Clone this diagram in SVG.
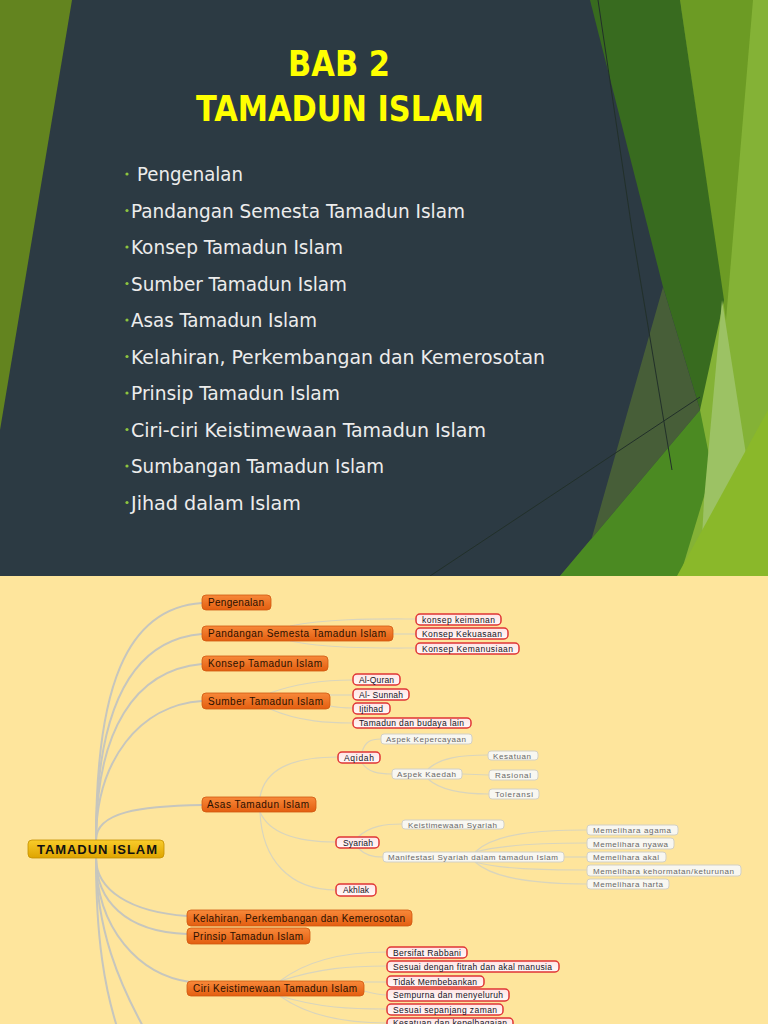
<svg xmlns="http://www.w3.org/2000/svg" width="768" height="1024" viewBox="0 0 768 1024">
<defs>
<linearGradient id="gOr" x1="0" y1="0" x2="0" y2="1"><stop offset="0" stop-color="#f8893a"/><stop offset="1" stop-color="#e35e10"/></linearGradient>
<linearGradient id="gGold" x1="0" y1="0" x2="0" y2="1"><stop offset="0" stop-color="#f9cc2a"/><stop offset="1" stop-color="#dea400"/></linearGradient>
<linearGradient id="gRed" x1="0" y1="0" x2="0" y2="1"><stop offset="0" stop-color="#ffe4e4"/><stop offset="1" stop-color="#fff9f9"/></linearGradient>
<style>
.tt{font-family:"DejaVu Sans Condensed","DejaVu Sans",sans-serif;font-weight:bold;font-size:36px;fill:#ffff00}
.bl{font-family:"DejaVu Sans Condensed","DejaVu Sans",sans-serif;font-size:19px;fill:#ececec}
.dot{fill:#8dc63f}
.m rect{fill:url(#gOr);stroke:#cf5810;stroke-width:0.8}
.m text{font-family:"Liberation Sans",Arial,sans-serif;font-size:10px;fill:#2a1000}
.r rect{fill:url(#gRed);stroke:#e03535;stroke-width:1.5}
.r text{font-family:"Liberation Sans",Arial,sans-serif;font-size:8.5px;fill:#14141e}
.g rect{fill:#f8f7f1;stroke:#d2d0c6;stroke-width:1}
.g text{font-family:"Liberation Sans",Arial,sans-serif;font-size:8px;fill:#686868}
.c rect{fill:url(#gGold);stroke:#c49000;stroke-width:0.8}
.c text{font-family:"Liberation Sans",Arial,sans-serif;font-size:13px;font-weight:bold;fill:#111}
.mc path{fill:none;stroke:#c6c6be;stroke-width:2}
.sc path{fill:none;stroke:#d9d5bd;stroke-width:1.2}
</style>
</defs>
<!-- slide background -->
<rect x="0" y="0" width="768" height="576" fill="#2c3a43"/>
<polygon points="0,0 72,0 0,430" fill="#63841f"/>
<polygon points="680,0 768,0 768,576 680,576 700,410" fill="#84b236"/>
<polygon points="680,0 753,0 726,320" fill="#6c9b24"/>
<polygon points="590,0 680,0 724,300 700,410 663,287" fill="#386b1f"/>
<polygon points="663,287 700,410 560,576 581,576" fill="#475e38"/>
<polygon points="560,576 700,410 712,470 680,576" fill="#4b8a22"/>
<polygon points="722,300 750,480 700,576 704,500" fill="#9cc264"/>
<polygon points="677,576 768,410 768,576" fill="#8ab82a"/>
<polyline points="598,0 632,230 672,470" fill="none" stroke="#22302a" stroke-width="1"/>
<line x1="430" y1="576" x2="700" y2="397" stroke="#22302a" stroke-width="1"/>
<!-- title -->
<text class="tt" x="288" y="76" textLength="102" lengthAdjust="spacingAndGlyphs">BAB 2</text>
<text class="tt" x="196" y="121" textLength="288" lengthAdjust="spacingAndGlyphs">TAMADUN ISLAM</text>
<!-- bullets -->
<g id="bullets">
<circle class="dot" cx="127" cy="174" r="1.6"/><text class="bl" x="137" y="181" textLength="106" lengthAdjust="spacingAndGlyphs">Pengenalan</text>
<circle class="dot" cx="127" cy="210.5" r="1.6"/><text class="bl" x="131" y="217.5" textLength="334" lengthAdjust="spacingAndGlyphs">Pandangan Semesta Tamadun Islam</text>
<circle class="dot" cx="127" cy="247" r="1.6"/><text class="bl" x="131" y="254" textLength="212" lengthAdjust="spacingAndGlyphs">Konsep Tamadun Islam</text>
<circle class="dot" cx="127" cy="283.5" r="1.6"/><text class="bl" x="131" y="290.5" textLength="216" lengthAdjust="spacingAndGlyphs">Sumber Tamadun Islam</text>
<circle class="dot" cx="127" cy="320" r="1.6"/><text class="bl" x="131" y="327" textLength="186" lengthAdjust="spacingAndGlyphs">Asas Tamadun Islam</text>
<circle class="dot" cx="127" cy="356.5" r="1.6"/><text class="bl" x="131" y="363.5" textLength="414" lengthAdjust="spacingAndGlyphs">Kelahiran, Perkembangan dan Kemerosotan</text>
<circle class="dot" cx="127" cy="393" r="1.6"/><text class="bl" x="131" y="400" textLength="209" lengthAdjust="spacingAndGlyphs">Prinsip Tamadun Islam</text>
<circle class="dot" cx="127" cy="429.5" r="1.6"/><text class="bl" x="131" y="436.5" textLength="355" lengthAdjust="spacingAndGlyphs">Ciri-ciri Keistimewaan Tamadun Islam</text>
<circle class="dot" cx="127" cy="466" r="1.6"/><text class="bl" x="131" y="473" textLength="253" lengthAdjust="spacingAndGlyphs">Sumbangan Tamadun Islam</text>
<circle class="dot" cx="127" cy="502.5" r="1.6"/><text class="bl" x="131" y="509.5" textLength="170" lengthAdjust="spacingAndGlyphs">Jihad dalam Islam</text>
</g>
<!-- mind map background -->
<rect x="0" y="576" width="768" height="448" fill="#fee59c"/>
<g id="connectors">
<g class="mc">
<path d="M96,840 C96,690 125,608 202,603"/>
<path d="M96,840 C96,710 130,640 202,634"/>
<path d="M96,840 C96,730 135,670 202,664"/>
<path d="M96,840 C96,760 140,705 202,701"/>
<path d="M96,840 C96,812 140,806 202,805"/>
<path d="M96,858 C96,890 130,912 187,916"/>
<path d="M96,858 C96,900 125,932 187,934"/>
<path d="M96,858 C96,930 140,975 190,982"/>
<path d="M96,858 C96,940 105,990 118,1030"/>
<path d="M96,858 C96,930 120,985 145,1030"/>
</g>
<g class="sc">
<path d="M290,626 C330,618 380,619 416,619"/>
<path d="M393,634 L416,634"/>
<path d="M290,641 C330,649 380,648 416,648"/>
<path d="M270,693 C300,682 330,680 353,680"/>
<path d="M330,695 L353,695"/>
<path d="M330,706 C340,708 345,708 353,708"/>
<path d="M270,709 C300,722 330,723 353,723"/>
<path d="M260,797 C265,770 290,757 338,757"/>
<path d="M260,812 C270,835 300,842 336,842"/>
<path d="M260,812 C262,860 290,890 336,890"/>
<path d="M362,752 C365,742 370,739 381,739"/>
<path d="M362,763 C368,772 378,774 392,774"/>
<path d="M428,769 C440,758 460,755 488,755"/>
<path d="M462,774 L489,775"/>
<path d="M428,779 C440,790 460,794 489,794"/>
<path d="M358,837 C370,826 385,824 402,824"/>
<path d="M358,848 C365,855 372,857 383,857"/>
<path d="M475,852 C495,833 540,830 587,830"/>
<path d="M475,852 C500,845 540,843 587,843"/>
<path d="M564,857 L587,857"/>
<path d="M475,862 C500,869 540,870 587,870"/>
<path d="M475,862 C495,880 540,884 587,884"/>
<path d="M280,981 C310,958 350,952 387,952"/>
<path d="M280,981 C320,968 350,966 387,966"/>
<path d="M364,982 L387,982"/>
<path d="M364,991 C375,994 380,995 387,995"/>
<path d="M280,996 C320,1008 350,1009 387,1009"/>
<path d="M280,996 C310,1018 350,1023 387,1023"/>
</g>
</g>
<g id="n-root" class="c"><rect x="28" y="840" width="136" height="18" rx="4"/><text x="37" y="854" textLength="120">TAMADUN ISLAM</text></g>
<g id="n-pengenalan" class="m"><rect x="202" y="595" width="69" height="15" rx="4"/><text x="208" y="606" textLength="56">Pengenalan</text></g>
<g id="n-pandangan" class="m"><rect x="202" y="626" width="191" height="15" rx="4"/><text x="208" y="637" textLength="178">Pandangan Semesta Tamadun Islam</text></g>
<g id="n-konsep" class="m"><rect x="202" y="656" width="126" height="15" rx="4"/><text x="208" y="667" textLength="114">Konsep Tamadun Islam</text></g>
<g id="n-sumber" class="m"><rect x="202" y="693" width="128" height="16" rx="4"/><text x="208" y="704.5" textLength="115">Sumber Tamadun Islam</text></g>
<g id="n-asas" class="m"><rect x="202" y="797" width="114" height="15" rx="4"/><text x="207" y="808" textLength="102">Asas Tamadun Islam</text></g>
<g id="n-kelahiran" class="m"><rect x="187" y="910" width="225" height="16" rx="4"/><text x="193" y="921.5" textLength="212">Kelahiran, Perkembangan dan Kemerosotan</text></g>
<g id="n-prinsip" class="m"><rect x="187" y="928" width="123" height="16" rx="4"/><text x="193" y="939.5" textLength="110">Prinsip Tamadun Islam</text></g>
<g id="n-ciri" class="m"><rect x="187" y="981" width="177" height="15" rx="4"/><text x="193" y="992" textLength="164">Ciri Keistimewaan Tamadun Islam</text></g>
<g id="n-keimanan" class="r"><rect x="416" y="614" width="85" height="11" rx="4"/><text x="422" y="622.5" textLength="73">konsep keimanan</text></g>
<g id="n-kekuasaan" class="r"><rect x="416" y="628" width="92" height="11" rx="4"/><text x="422" y="636.5" textLength="80">Konsep Kekuasaan</text></g>
<g id="n-kemanusiaan" class="r"><rect x="416" y="643" width="103" height="11" rx="4"/><text x="422" y="651.5" textLength="91">Konsep Kemanusiaan</text></g>
<g id="n-quran" class="r"><rect x="353" y="674" width="47" height="11" rx="4"/><text x="359" y="682.5" textLength="35">Al-Quran</text></g>
<g id="n-sunnah" class="r"><rect x="353" y="689" width="56" height="11" rx="4"/><text x="359" y="697.5" textLength="44">Al- Sunnah</text></g>
<g id="n-ijtihad" class="r"><rect x="353" y="703" width="37" height="11" rx="4"/><text x="359" y="711.5" textLength="24">Ijtihad</text></g>
<g id="n-budaya" class="r"><rect x="353" y="718" width="118" height="10" rx="4"/><text x="359" y="726" textLength="105">Tamadun dan budaya lain</text></g>
<g id="n-aqidah" class="r"><rect x="338" y="752" width="42" height="11" rx="4"/><text x="344" y="760.5" textLength="30">Aqidah</text></g>
<g id="n-syariah" class="r"><rect x="336" y="837" width="43" height="11" rx="4"/><text x="343" y="845.5" textLength="30">Syariah</text></g>
<g id="n-akhlak" class="r"><rect x="336" y="884" width="40" height="12" rx="4"/><text x="343" y="893" textLength="26">Akhlak</text></g>
<g id="n-rabbani" class="r"><rect x="387" y="947" width="80" height="11" rx="4"/><text x="393" y="955.5" textLength="68">Bersifat Rabbani</text></g>
<g id="n-fitrah" class="r"><rect x="387" y="961" width="172" height="11" rx="4"/><text x="393" y="969.5" textLength="159">Sesuai dengan fitrah dan akal manusia</text></g>
<g id="n-tidak" class="r"><rect x="387" y="976" width="97" height="11" rx="4"/><text x="393" y="984.5" textLength="84">Tidak Membebankan</text></g>
<g id="n-sempurna" class="r"><rect x="387" y="989" width="122" height="12" rx="4"/><text x="393" y="998" textLength="110">Sempurna dan menyeluruh</text></g>
<g id="n-zaman" class="r"><rect x="387" y="1004" width="116" height="11" rx="4"/><text x="393" y="1012.5" textLength="104">Sesuai sepanjang zaman</text></g>
<g id="n-kesatuan" class="r"><rect x="387" y="1018" width="126" height="11" rx="4"/><text x="393" y="1026" textLength="114">Kesatuan dan kepelbagaian</text></g>
<g id="n-kepercayaan" class="g"><rect x="381" y="734" width="91" height="10" rx="3"/><text x="386" y="742" textLength="80">Aspek Kepercayaan</text></g>
<g id="n-kaedah" class="g"><rect x="392" y="769" width="70" height="10" rx="3"/><text x="397" y="777" textLength="59">Aspek Kaedah</text></g>
<g id="n-kesatuan2" class="g"><rect x="488" y="751" width="50" height="9" rx="3"/><text x="493" y="758.5" textLength="38">Kesatuan</text></g>
<g id="n-rasional" class="g"><rect x="489" y="770" width="49" height="10" rx="3"/><text x="495" y="778" textLength="36">Rasional</text></g>
<g id="n-toleransi" class="g"><rect x="489" y="789" width="50" height="10" rx="3"/><text x="495" y="797" textLength="38">Toleransi</text></g>
<g id="n-keistimewaan" class="g"><rect x="402" y="820" width="102" height="9" rx="3"/><text x="408" y="827.5" textLength="89">Keistimewaan Syariah</text></g>
<g id="n-manifestasi" class="g"><rect x="383" y="852" width="181" height="10" rx="3"/><text x="388" y="860" textLength="170">Manifestasi Syariah dalam tamadun Islam</text></g>
<g id="n-agama" class="g"><rect x="587" y="825" width="91" height="10" rx="3"/><text x="593" y="833" textLength="78">Memelihara agama</text></g>
<g id="n-nyawa" class="g"><rect x="587" y="838" width="87" height="11" rx="3"/><text x="593" y="846.5" textLength="75">Memelihara nyawa</text></g>
<g id="n-akal" class="g"><rect x="587" y="852" width="79" height="10" rx="3"/><text x="593" y="860" textLength="66">Memelihara akal</text></g>
<g id="n-kehormatan" class="g"><rect x="587" y="865" width="154" height="11" rx="3"/><text x="593" y="873.5" textLength="141">Memelihara kehormatan/keturunan</text></g>
<g id="n-harta" class="g"><rect x="587" y="879" width="82" height="10" rx="3"/><text x="593" y="887" textLength="70">Memelihara harta</text></g>
</svg>
